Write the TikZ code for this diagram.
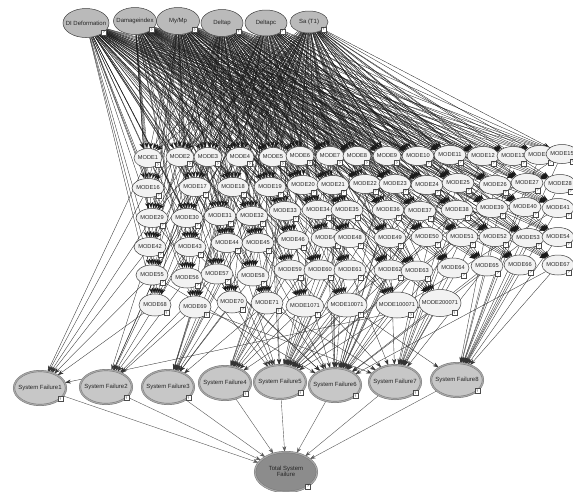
\documentclass[tikz,border=0pt]{standalone}
\usepackage{fontspec}
\newfontfamily\lsans{Liberation Sans}
\usetikzlibrary{shapes.geometric,arrows.meta,backgrounds}
\newcommand\zb[1]{\makebox[0pt]{#1}}
\tikzset{
  base/.style={ellipse, draw=black!75, line width=0.5pt, inner sep=0pt,
    font=\lsans\fontsize{5.7}{6.5}\selectfont, text=black!85},
  parent/.style={base, fill=black!27, minimum width=44pt, minimum height=28pt,
    font=\lsans\fontsize{6}{7}\selectfont},
  mode/.style={base, fill=black!5},
  sf/.style={base, fill=black!22, draw=black!55, double=black!35, double distance=1.2pt,
    line width=0.4pt, minimum width=52pt, minimum height=34pt,
    font=\lsans\fontsize{6}{7}\selectfont},
  tsf/.style={sf, fill=black!45, minimum width=62pt, minimum height=40pt},
  qbox/.style={draw=black!70, fill=white, line width=0.3pt, inner sep=0pt,
    minimum size=5pt, font=\lsans\fontsize{3.5}{3.5}\selectfont, anchor=center},
  pe/.style={draw=black!90, line width=0.3pt, -{Stealth[length=6pt,width=4pt]}},
  me/.style={draw=black!80, line width=0.35pt, -{Stealth[length=6pt,width=4pt]}},
  te/.style={draw=black!65, line width=0.4pt, -{Stealth[length=5.5pt,width=3.8pt]}},
}
\begin{document}
\begin{tikzpicture}[x=1pt,y=-1pt]
\useasboundingbox (0,0) rectangle (573,491);
\clip (0,0) rectangle (573,491);
\begin{pgfonlayer}{background}
\fill[white] (0,0) rectangle (573,491);
\end{pgfonlayer}
% parents
\node[parent, minimum width=46pt, minimum height=29pt, label={[qbox]-28:?}] (p1) at (86,23) {\zb{DI Deformation}};
\node[parent, minimum width=43pt, minimum height=27pt, label={[qbox]-28:?}] (p2) at (135,21) {\zb{Damageindex}};
\node[parent, minimum width=43pt, minimum height=27pt, label={[qbox]-28:?}] (p3) at (178,21) {\zb{My/Mp}};
\node[parent, minimum width=42pt, minimum height=27pt, label={[qbox]-28:?}] (p4) at (222,23) {\zb{Deltap}};
\node[parent, minimum width=42pt, minimum height=26pt, label={[qbox]-28:?}] (p5) at (266,23) {\zb{Deltapc}};
\node[parent, minimum width=38pt, minimum height=22pt, label={[qbox]-28:?}] (p6) at (309,22) {\zb{Sa (T1)}};
% system failures
\node[sf, label={[qbox]-28:?}] (sf1) at (40,388) {\zb{System Failure1}};
\node[sf, label={[qbox]-28:?}] (sf2) at (106,387) {\zb{System Failure2}};
\node[sf, label={[qbox]-28:?}] (sf3) at (168,387) {\zb{System Failure3}};
\node[sf, label={[qbox]-28:?}] (sf4) at (225,383) {\zb{System Failure4}};
\node[sf, label={[qbox]-28:?}] (sf5) at (280,382) {\zb{System Failure5}};
\node[sf, label={[qbox]-28:?}] (sf6) at (335,385) {\zb{System Failure6}};
\node[sf, label={[qbox]-28:?}] (sf7) at (395,382) {\zb{System Failure7}};
\node[sf, label={[qbox]-28:?}] (sf8) at (457,380) {\zb{System Failure8}};
\node[tsf, label={[qbox]-33:?}] (tsf) at (286,472) {\zb{\begin{tabular}{@{}c@{}}Total System\\[-1pt]Failure\end{tabular}}};
\begin{pgfonlayer}{background}
\foreach \s in {1,...,8} \draw[te] (sf\s) -- (tsf);
\end{pgfonlayer}
% modes
\foreach \n/\x/\y/\w/\h/\t in {
1/148/158/28/19/MODE1, 2/180/157/28/19/MODE2, 3/208/157/28/19/MODE3, 4/240/157/28/19/MODE4,
5/273/157/28/19/MODE5, 6/300/156/28/19/MODE6, 7/330/156/28/19/MODE7, 8/357/156/28/19/MODE8,
9/387/156/28/19/MODE9, 10/418/156/32/19/MODE10, 11/450/155/32/19/MODE11, 12/483/156/32/19/MODE12,
13/513/156/32/19/MODE13, 14/540/155/32/19/MODE14, 15/562/154/32/19/MODE15,
16/148/188/32/19/MODE16, 17/195/187/32/19/MODE17, 18/233/187/32/19/MODE18, 19/270/187/32/19/MODE19,
20/303/185/32/19/MODE20, 21/333/185/32/19/MODE21, 22/365/184/32/19/MODE22, 23/395/184/32/19/MODE23,
24/427/185/32/19/MODE24, 25/458/183/32/19/MODE25, 26/495/185/32/19/MODE26, 27/527/183/32/19/MODE27,
28/560/184/32/19/MODE28,
29/152/218/32/19/MODE29, 30/187/218/32/19/MODE30, 31/220/216/32/19/MODE31, 32/252/216/32/19/MODE32,
33/285/211/32/19/MODE33, 34/318/210/32/19/MODE34, 35/347/210/32/19/MODE35, 36/388/210/32/19/MODE36,
37/420/211/32/19/MODE37, 38/457/210/32/19/MODE38, 39/492/208/32/19/MODE39, 40/525/207/32/19/MODE40,
41/558/208/32/19/MODE41,
42/150/247/32/19/MODE42, 43/190/247/32/19/MODE43, 44/227/243/32/19/MODE44, 45/258/243/32/19/MODE45,
46/293/240/32/19/MODE46, 47/327/238/32/19/MODE47, 48/350/238/32/19/MODE48, 49/390/238/32/19/MODE49,
50/427/237/32/19/MODE50, 51/462/237/32/19/MODE51, 52/495/237/32/19/MODE52, 53/528/238/32/19/MODE53,
54/558/237/32/19/MODE54,
55/152/275/32/20/MODE55, 56/187/278/32/20/MODE56, 57/217/274/32/20/MODE57, 58/253/276/32/20/MODE58,
59/290/270/32/20/MODE59, 60/320/270/32/20/MODE60, 61/350/270/32/20/MODE61, 62/390/270/32/20/MODE62,
63/417/271/32/20/MODE63, 64/453/268/32/20/MODE64, 65/487/266/32/20/MODE65, 66/520/265/32/20/MODE66,
67/558/265/32/20/MODE67,
68/155/305/32/22/MODE68, 69/195/307/32/22/MODE69, 70/232/302/30/22/MODE70, 71/267/303/32/22/MODE71,
72/305/306/38/22/MODE1071, 73/347/305/40/24/MODE10071, 74/397/305/42/26/MODE100071, 75/440/303/42/27/MODE200071}{
  \node[mode, minimum width=\w pt, minimum height=\h pt, label={[qbox]-35:?}] (m\n) at (\x,\y) {\zb{\t}};
  \pgfmathtruncatemacro\ta{max(1,min(8,int((\x-110)/55)+1))}
  \pgfmathtruncatemacro\tb{mod(\ta-1+mod(\n*3,7)+1,8)+1}
  \begin{pgfonlayer}{background}
    \foreach \p in {1,...,6} \draw[pe] (p\p) -- (m\n);
    \draw[me] (m\n) -- (sf\ta);
    \ifodd\n\relax \draw[me] (m\n) -- (sf\tb); \fi
  \end{pgfonlayer}
}
\end{tikzpicture}
\end{document}
